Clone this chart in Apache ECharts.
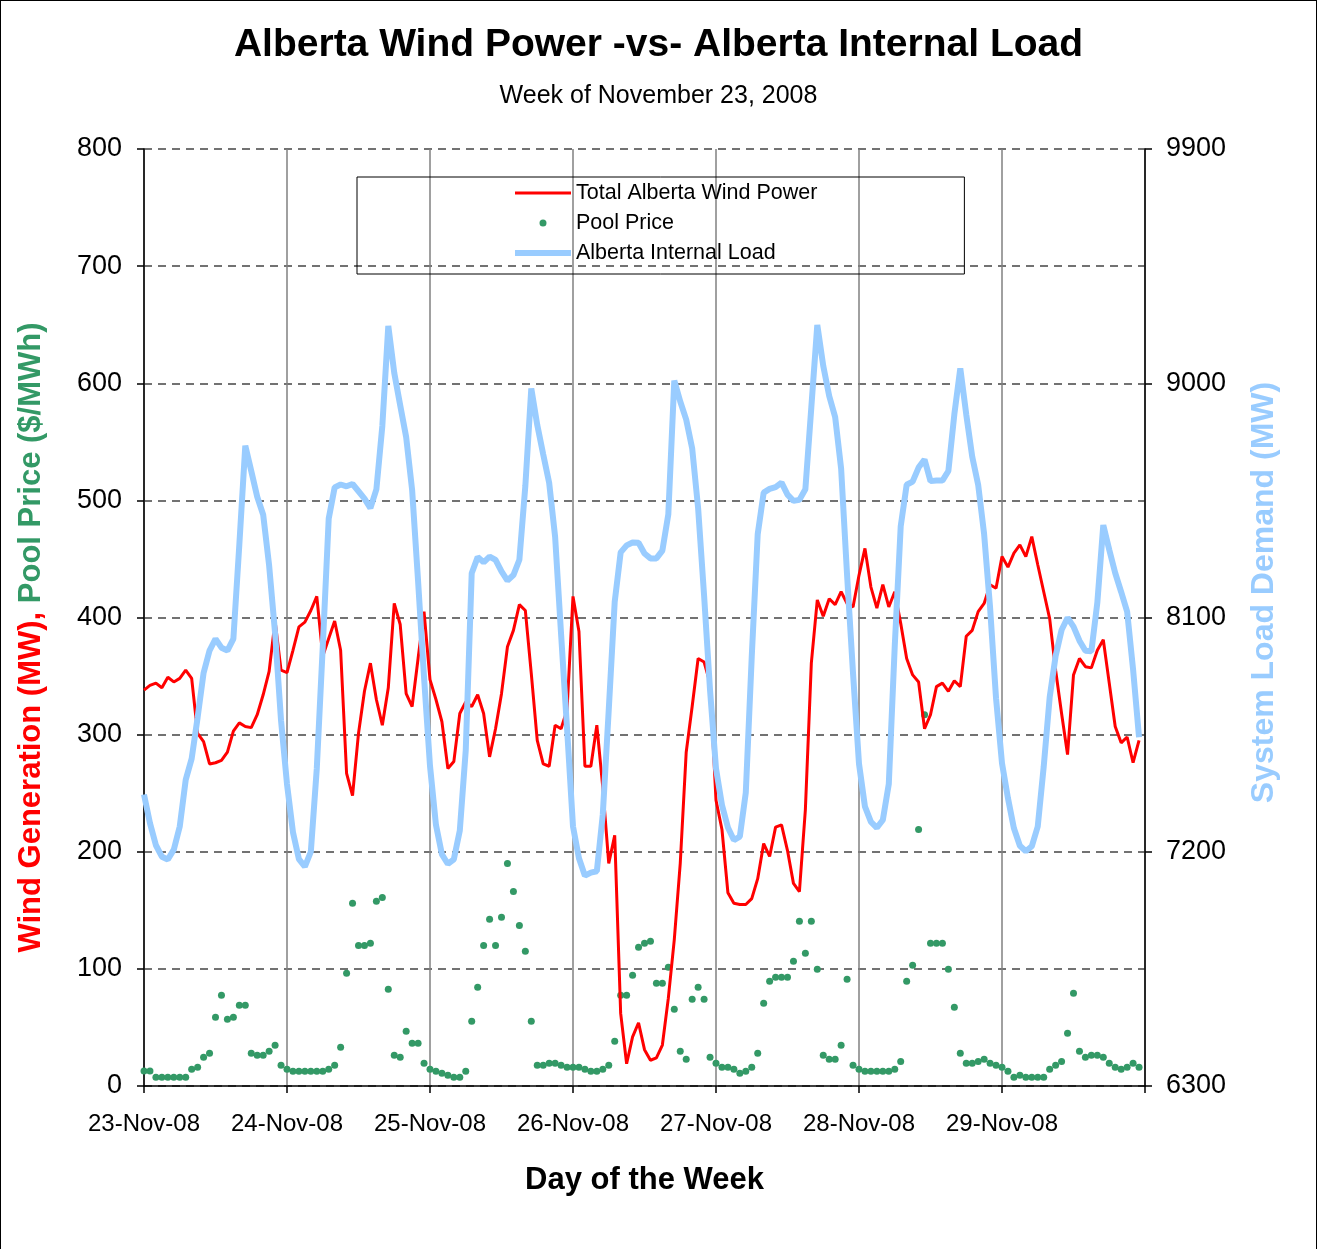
<!DOCTYPE html>
<html>
<head>
<meta charset="utf-8">
<title>Alberta Wind Power -vs- Alberta Internal Load</title>
<script src="https://cdn.jsdelivr.net/npm/echarts@6/dist/echarts.min.js"></script>
<style>
  html, body { margin: 0; padding: 0; background: #fff; }
  #chart { width: 1317px; height: 1249px; }
  #frame { position: absolute; left: 0; top: 0; width: 1315px; height: 1249px; border: 1px solid #000; border-bottom: none; pointer-events: none; }
</style>
</head>
<body>
<div id="chart"></div>
<div id="frame"></div>
<script>
// day labels, one per 24 hours
const dayLabels = ['23-Nov-08', '24-Nov-08', '25-Nov-08', '26-Nov-08', '27-Nov-08', '28-Nov-08', '29-Nov-08'];

// hourly wind generation (MW), 168 hours
const windMW = [
  338, 342, 344, 340, 349, 345, 348, 355, 348, 301,
  294, 275, 276, 278, 285, 303, 310, 307, 306, 317,
  334, 354, 397, 355, 353, 372, 392, 396, 406, 418,
  367, 382, 397, 372, 267, 248, 301, 337, 361, 330,
  308, 340, 412, 394, 335, 324, 365, 405, 347, 330,
  311, 271, 277, 318, 328, 324, 334, 318, 281, 305,
  335, 375, 389, 411, 406, 352, 295, 275, 273, 308,
  305, 321, 418, 388, 273, 273, 308, 255, 190, 214,
  62, 19, 42, 54, 31, 22, 24, 35, 75, 125,
  190, 285, 324, 365, 362, 344, 244, 219, 165, 156,
  155, 155, 160, 177, 207, 196, 221, 223, 201, 173,
  166, 236, 361, 415, 401, 416, 411, 422, 412, 409,
  436, 459, 426, 408, 428, 409, 422, 395, 365, 351,
  345, 305, 317, 341, 344, 337, 346, 341, 384, 389,
  405, 412, 428, 425, 452, 443, 455, 462, 452, 469,
  445, 422, 399, 355, 318, 283, 351, 365, 358, 357,
  372, 381, 344, 307, 293, 298, 276, 295
];

// hourly pool price ($/MWh)
const poolPrice = [
  12.8, 12.8, 7.4, 7.4, 7.4, 7.4, 7.4, 7.4, 14.2, 16,
  24.5, 27.9, 58.7, 77.5, 57, 58.7, 68.9, 68.9, 27.9, 26.2,
  26.2, 29.6, 34.8, 17.7, 14.2, 12.5, 12.5, 12.5, 12.5, 12.5,
  12.5, 14.2, 17.7, 33, 96.2, 156, 120, 120, 121.8, 157.7,
  161, 82.6, 26.2, 24.5, 46.7, 36.5, 36.5, 19.4, 14.2, 12.5,
  10.8, 9.1, 7.4, 7.4, 12.5, 55.3, 84.3, 120, 142.4, 120,
  144, 190, 166, 137, 115, 55.3, 17.7, 17.7, 19.4, 19.4,
  17.7, 16, 16, 16, 14.2, 12.5, 12.5, 14.2, 17.7, 38.2,
  77.5, 77.5, 94.5, 118.4, 121.8, 123.6, 87.7, 87.7, 101.4, 65.5,
  29.6, 22.8, 74, 84.3, 74, 24.5, 19.4, 16, 16, 14.2,
  10.8, 12.5, 16, 27.9, 70.6, 89.4, 92.8, 92.8, 92.8, 106.5,
  140.6, 113.3, 140.6, 99.7, 26.2, 22.8, 22.8, 34.8, 91.1, 17.7,
  14.2, 12.5, 12.5, 12.5, 12.5, 12.5, 14.2, 21, 89.4, 103,
  219, 317, 121.8, 121.8, 121.8, 99.7, 67.2, 27.9, 19.4, 19.4,
  21, 22.8, 19.4, 17.7, 16, 12.5, 7.4, 9.1, 7.4, 7.4,
  7.4, 7.4, 14.2, 17.7, 21, 45, 79.2, 29.6, 24.5, 26.2,
  26.2, 24.5, 19.4, 16, 14.2, 16, 19.4, 16
];

// hourly Alberta internal load (MW), right axis
const loadMW = [
  7420, 7310, 7225, 7181, 7170, 7208, 7297, 7476, 7558, 7716,
  7887, 7973, 8018, 7984, 7973, 8018, 8380, 8760, 8663, 8564,
  8495, 8300, 8040, 7704, 7460, 7275, 7172, 7143, 7200, 7520,
  7987, 8480, 8600, 8611, 8604, 8613, 8585, 8557, 8520, 8592,
  8836, 9220, 9040, 8915, 8793, 8590, 8240, 7870, 7530, 7303,
  7190, 7153, 7171, 7281, 7590, 8270, 8332, 8312, 8334, 8321,
  8277, 8242, 8263, 8322, 8605, 8980, 8840, 8727, 8617, 8410,
  8036, 7674, 7297, 7175, 7108, 7120, 7125, 7343, 7745, 8160,
  8350, 8377, 8388, 8387, 8346, 8327, 8327, 8357, 8497, 9010,
  8930, 8860, 8750, 8520, 8185, 7821, 7520, 7380, 7293, 7245,
  7258, 7427, 7950, 8420, 8580, 8594, 8601, 8618, 8572, 8548,
  8552, 8593, 8908, 9224, 9067, 8951, 8870, 8672, 8263, 7885,
  7538, 7373, 7315, 7292, 7322, 7460, 7990, 8450, 8610, 8622,
  8676, 8707, 8624, 8626, 8626, 8663, 8880, 9057, 8880, 8718,
  8610, 8420, 8138, 7790, 7540, 7406, 7290, 7223, 7202, 7221,
  7297, 7527, 7793, 7952, 8052, 8099, 8065, 8011, 7972, 7970,
  8157, 8455, 8360, 8271, 8198, 8123, 7900, 7640
];

const fontFam = '"Liberation Sans", Arial, sans-serif';
const toPairs = arr => arr.map((v, i) => [i, v]);

// small dot inside a 14x14 box so the legend keeps it small
const dotIcon = 'path://M0,0L0.01,0L0.01,0.01ZM14,14L13.99,14L13.99,13.99Z' +
  'M7,3.5A3.5,3.5 0 1 1 7,10.5A3.5,3.5 0 1 1 7,3.5Z';

const chart = echarts.init(document.getElementById('chart'));

const option = {
  animation: false,
  backgroundColor: '#fff',
  textStyle: { fontFamily: fontFam, color: '#000' },
  title: [
    {
      text: 'Alberta Wind Power -vs- Alberta Internal Load',
      left: 'center',
      top: 26,
      padding: [0, 6, 0, 0],
      textStyle: { fontFamily: fontFam, fontSize: 39, fontWeight: 'bold', color: '#000' }
    },
    {
      text: 'Week of November 23, 2008',
      left: 'center',
      top: 84,
      padding: [0, 6, 0, 0],
      textStyle: { fontFamily: fontFam, fontSize: 25, fontWeight: 'normal', color: '#000' }
    }
  ],
  legend: {
    orient: 'vertical',
    left: 357,
    top: 177,
    padding: [5, 147, 10, 155],
    itemGap: 8,
    itemWidth: 56,
    itemHeight: 14,
    borderColor: '#000',
    borderWidth: 1,
    textStyle: { fontFamily: fontFam, fontSize: 21.5, color: '#000' },
    data: [
      { name: 'Total Alberta Wind Power', itemStyle: { opacity: 0 }, lineStyle: { width: 3, color: '#ff0000' } },
      { name: 'Pool Price', icon: dotIcon, itemStyle: { color: '#339966', opacity: 1, borderWidth: 0 } },
      { name: 'Alberta Internal Load', itemStyle: { opacity: 0 }, lineStyle: { width: 6, color: '#99ccff' } }
    ]
  },
  grid: { left: 144, right: 172, top: 149, bottom: 163, containLabel: false },
  xAxis: {
    type: 'value',
    min: 0,
    max: 168,
    interval: 24,
    name: 'Day of the Week',
    nameLocation: 'middle',
    nameGap: 79,
    nameTextStyle: { fontFamily: fontFam, fontSize: 31, fontWeight: 'bold', color: '#000' },
    axisLine: { show: true, lineStyle: { color: '#000', width: 1.5 } },
    axisTick: { show: true, length: 7, lineStyle: { color: '#000', width: 1.5 } },
    axisLabel: {
      margin: 26,
      fontSize: 24,
      fontFamily: fontFam,
      color: '#000',
      formatter: v => dayLabels[v / 24] || ''
    },
    splitLine: { show: true, lineStyle: { color: '#808080', width: 1.5, type: 'solid' } }
  },
  yAxis: [
    {
      type: 'value',
      min: 0,
      max: 800,
      interval: 100,
      position: 'left',
      name: '{r|Wind Generation (MW),} {g|Pool Price ($/MWh)}',
      nameLocation: 'middle',
      nameRotate: 90,
      nameGap: 97,
      nameTextStyle: {
        fontFamily: fontFam,
        fontSize: 31,
        fontWeight: 'bold',
        padding: [0, 40, 0, 0],
        rich: {
          r: { color: '#ff0000', fontFamily: fontFam, fontSize: 31, fontWeight: 'bold' },
          g: { color: '#339966', fontFamily: fontFam, fontSize: 31, fontWeight: 'bold' }
        }
      },
      axisLine: { show: true, lineStyle: { color: '#000', width: 1.5 } },
      axisTick: { show: true, length: 7, lineStyle: { color: '#000', width: 1.5 } },
      axisLabel: { margin: 22, fontSize: 27, fontFamily: fontFam, color: '#000' },
      splitLine: { show: true, lineStyle: { color: '#444', width: 1.5, type: [8, 6] } }
    },
    {
      type: 'value',
      min: 6300,
      max: 9900,
      interval: 900,
      position: 'right',
      name: 'System Load Demand (MW)',
      nameLocation: 'middle',
      nameRotate: 90,
      nameGap: 103,
      nameTextStyle: {
        fontFamily: fontFam,
        fontSize: 32,
        fontWeight: 'bold',
        color: '#99ccff',
        padding: [0, 0, 0, 50]
      },
      axisLine: { show: true, lineStyle: { color: '#000', width: 1.5 } },
      axisTick: { show: true, length: 7, lineStyle: { color: '#000', width: 1.5 } },
      axisLabel: { margin: 21, fontSize: 27, fontFamily: fontFam, color: '#000', formatter: v => String(v) },
      splitLine: { show: false }
    }
  ],
  series: [
    {
      name: 'Total Alberta Wind Power',
      type: 'line',
      data: toPairs(windMW),
      symbol: 'none',
      lineStyle: { color: '#ff0000', width: 3 },
      itemStyle: { color: '#ff0000' }
    },
    {
      name: 'Pool Price',
      type: 'scatter',
      data: toPairs(poolPrice),
      symbol: 'circle',
      symbolSize: 7,
      itemStyle: { color: '#339966', opacity: 1 }
    },
    {
      name: 'Alberta Internal Load',
      type: 'line',
      yAxisIndex: 1,
      data: toPairs(loadMW),
      symbol: 'none',
      lineStyle: { color: '#99ccff', width: 6 },
      itemStyle: { color: '#99ccff' }
    }
  ]
};

chart.setOption(option);
</script>
</body>
</html>
